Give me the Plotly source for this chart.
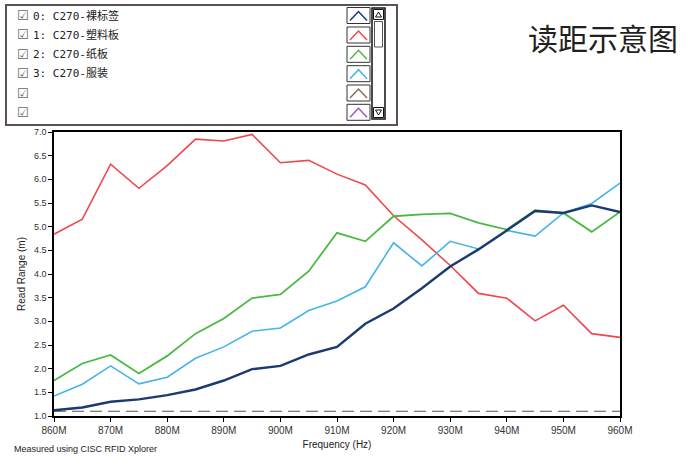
import plotly.graph_objects as go

# ---------------- data ----------------
freqs = [860, 865, 870, 875, 880, 885, 890, 895, 900, 905, 910, 915, 920, 925, 930, 935, 940, 945, 950, 955, 960]
series_names = ["0: C270-裸标签", "1: C270-塑料板", "2: C270-纸板", "3: C270-服装"]
bare_tag = [1.12, 1.18, 1.30, 1.35, 1.44, 1.56, 1.75, 1.99, 2.06, 2.30, 2.46, 2.95, 3.27, 3.70, 4.16, 4.52, 4.92, 5.33, 5.29, 5.45, 5.31]
plastic = [4.84, 5.16, 6.32, 5.81, 6.29, 6.85, 6.81, 6.95, 6.35, 6.40, 6.11, 5.88, 5.23, 4.72, 4.18, 3.59, 3.49, 3.01, 3.34, 2.74, 2.66]
cardboard = [1.75, 2.11, 2.29, 1.90, 2.27, 2.74, 3.06, 3.49, 3.57, 4.06, 4.87, 4.69, 5.22, 5.26, 5.28, 5.08, 4.94, 5.35, 5.29, 4.89, 5.31]
clothing = [1.42, 1.67, 2.06, 1.68, 1.82, 2.22, 2.46, 2.79, 2.86, 3.23, 3.43, 3.73, 4.66, 4.17, 4.69, 4.53, 4.92, 4.80, 5.29, 5.49, 5.92]
threshold = 1.1
x_ticks = [860, 870, 880, 890, 900, 910, 920, 930, 940, 950, 960]
x_tick_labels = ["860M", "870M", "880M", "890M", "900M", "910M", "920M", "930M", "940M", "950M", "960M"]
y_ticks = [1.0, 1.5, 2.0, 2.5, 3.0, 3.5, 4.0, 4.5, 5.0, 5.5, 6.0, 6.5, 7.0]
y_tick_labels = ["1.0", "1.5", "2.0", "2.5", "3.0", "3.5", "4.0", "4.5", "5.0", "5.5", "6.0", "6.5", "7.0"]
legend_labels = series_names + ["", ""]

colors = ["#1b3b70", "#f0474d", "#4cb843", "#46b4e8", "#8c6b62", "#9c5bb5"]
widths = [2.4, 1.6, 1.8, 1.6]

W, H = 700, 460
L, R, T, B = 54, 80, 132, 44
PW, PH = W - L - R, H - T - B

def px(x):
    return (x - L) / PW

def py(y):
    return (H - B - y) / PH

fig = go.Figure()
order = [1, 2, 3, 0]  # navy drawn on top
all_vals = [bare_tag, plastic, cardboard, clothing]
for i in order:
    fig.add_trace(go.Scatter(x=freqs, y=all_vals[i], mode="lines", name=series_names[i],
                             line=dict(color=colors[i], width=widths[i]), showlegend=False))

shapes = []
annotations = []

# threshold dashed line
shapes.append(dict(type="line", xref="x", yref="y", x0=freqs[0], x1=freqs[-1], y0=threshold, y1=threshold,
                   line=dict(color="#555555", width=1.2, dash="12px,6px"), layer="below"))

# legend panel (outer box)
shapes.append(dict(type="rect", xref="paper", yref="paper", x0=px(6), x1=px(397), y0=py(125), y1=py(5),
                   line=dict(color="#5b5353", width=2), fillcolor="white"))

row_y = [15.5, 35, 54.3, 73.7, 93, 112.3]
for i, lab in enumerate(legend_labels):
    yc = row_y[i]
    annotations.append(dict(x=px(15), y=py(yc), xref="paper", yref="paper", text="☑", showarrow=False,
                            xanchor="left", yanchor="middle",
                            font=dict(family="DejaVu Sans", size=13, color="#666666")))
    if lab:
        annotations.append(dict(x=px(31), y=py(yc), xref="paper", yref="paper", text=lab, showarrow=False,
                                xanchor="left", yanchor="middle",
                                font=dict(family="DejaVu Sans Mono, Noto Sans CJK SC", size=11, color="#222222")))
    # swatch box
    shapes.append(dict(type="rect", xref="paper", yref="paper", x0=px(347), x1=px(370),
                       y0=py(yc + 8), y1=py(yc - 8), line=dict(color="#333333", width=1), fillcolor="white"))
    # chevron
    path = "M {},{} L {},{} L {},{}".format(px(350), py(yc + 5), px(358.5), py(yc - 4), px(367), py(yc + 5))
    shapes.append(dict(type="path", xref="paper", yref="paper", path=path,
                       line=dict(color=colors[i], width=1.5)))

# scrollbar
shapes.append(dict(type="rect", xref="paper", yref="paper", x0=px(372), x1=px(385), y0=py(119), y1=py(8),
                   line=dict(color="#111111", width=1.5), fillcolor="white"))
shapes.append(dict(type="rect", xref="paper", yref="paper", x0=px(373.5), x1=px(383.5), y0=py(19.5), y1=py(9.5),
                   line=dict(color="#111111", width=1), fillcolor="white"))
shapes.append(dict(type="rect", xref="paper", yref="paper", x0=px(373.5), x1=px(383.5), y0=py(117.5), y1=py(107.5),
                   line=dict(color="#111111", width=1), fillcolor="white"))
shapes.append(dict(type="rect", xref="paper", yref="paper", x0=px(374.5), x1=px(382.5), y0=py(47), y1=py(21.5),
                   line=dict(color="#555555", width=1), fillcolor="white"))
up = "M {},{} L {},{} L {},{} Z".format(px(375.5), py(17), px(378.5), py(12), px(381.5), py(17))
dn = "M {},{} L {},{} L {},{} Z".format(px(375.5), py(110), px(378.5), py(115), px(381.5), py(110))
for p in (up, dn):
    shapes.append(dict(type="path", xref="paper", yref="paper", path=p,
                       line=dict(color="#111111", width=1), fillcolor="white"))

# title
annotations.append(dict(x=px(603), y=py(37), xref="paper", yref="paper", text="读距示意图", showarrow=False,
                        xanchor="center", yanchor="middle",
                        font=dict(family="Noto Sans CJK SC", size=30, color="#231f20")))
# footnote
annotations.append(dict(x=px(12), y=py(449), xref="paper", yref="paper", text="Measured using CISC RFID Xplorer",
                        showarrow=False, xanchor="left", yanchor="middle",
                        font=dict(family="Liberation Sans Narrow, Liberation Sans", size=9, color="#222222")))

fig.update_layout(
    width=W, height=H,
    margin=dict(l=L, r=R, t=T, b=B, pad=0),
    paper_bgcolor="white", plot_bgcolor="white",
    shapes=shapes, annotations=annotations,
    showlegend=False,
    font=dict(family="Liberation Sans", size=10, color="#333333"),
    xaxis=dict(range=[860, 960], tickvals=x_ticks, ticktext=x_tick_labels, showgrid=False, zeroline=False,
               showline=True, linecolor="black", linewidth=1.5, mirror=True,
               ticks="outside", ticklen=4, tickcolor="black",
               title=dict(text="Frequency (Hz)", font=dict(size=10, color="#222222"), standoff=6),
               tickfont=dict(size=10, color="#333333")),
    yaxis=dict(range=[1.0, 7.0], tickvals=y_ticks, ticktext=y_tick_labels, showgrid=False, zeroline=False,
               showline=True, linecolor="black", linewidth=1.5, mirror=True,
               ticks="outside", ticklen=4, tickcolor="black",
               title=dict(text="Read Range (m)", font=dict(size=10, color="#222222"), standoff=6),
               tickfont=dict(size=9, color="#333333")),
)

fig.write_html("out.html")
